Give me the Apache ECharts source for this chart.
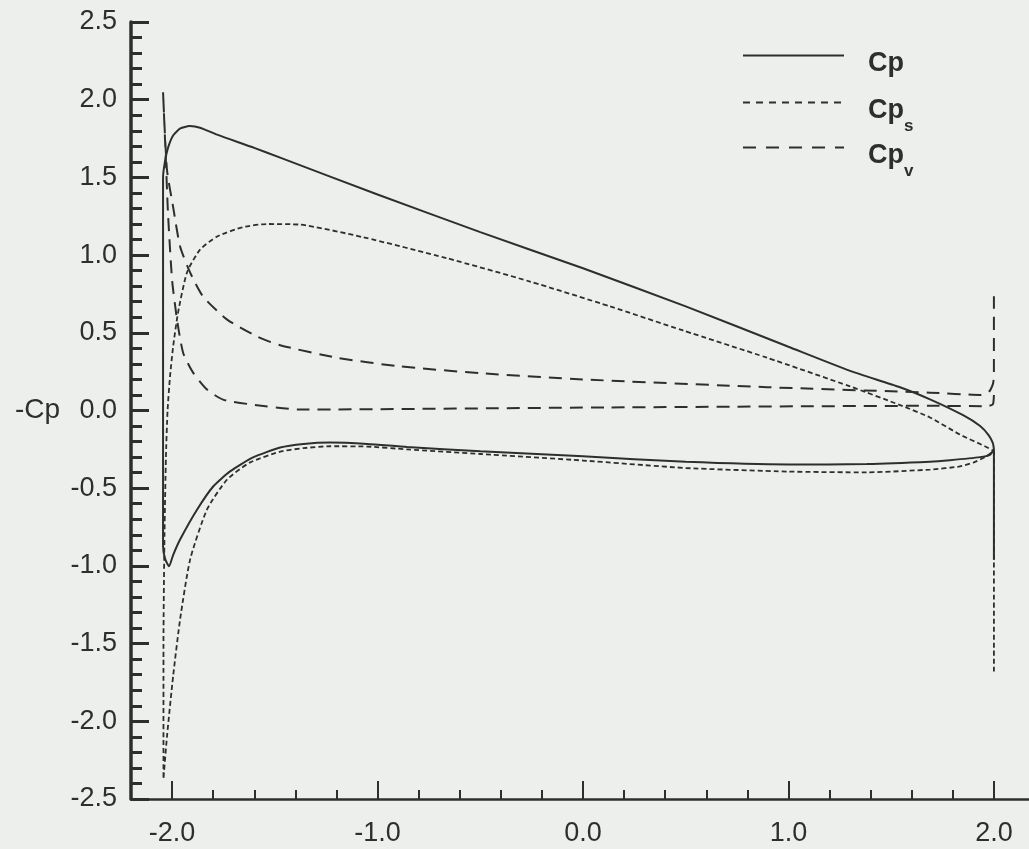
<!DOCTYPE html>
<html>
<head>
<meta charset="utf-8">
<script src="https://cdn.jsdelivr.net/npm/echarts@6/dist/echarts.min.js"></script>
<style>
  html, body { margin: 0; padding: 0; background: #edefec; }
  #chart { width: 1029px; height: 849px; }
</style>
</head>
<body>
<div id="chart"></div>
<script>
// Pressure coefficient around the section, x along the chord, y = -Cp.
// Each curve runs from the trailing-edge spike along the lower side to the
// leading edge, then back along the upper side.

const xMajorTicks = [-2, -1, 0, 1, 2];

// Total pressure coefficient Cp
const cpSpike = [[2.0, -0.96]];
const cpLower = [
  [2.0, -0.25], [1.98, -0.285], [1.932, -0.30], [1.786, -0.32], [1.689, -0.33],
  [1.382, -0.345], [1.0, -0.347], [0.5, -0.33], [0.0, -0.295], [-0.5, -0.262],
  [-0.856, -0.235], [-1.05, -0.215], [-1.231, -0.206], [-1.36, -0.215], [-1.474, -0.238],
  [-1.606, -0.302], [-1.718, -0.392], [-1.80, -0.489], [-1.878, -0.637], [-1.961, -0.83],
  [-1.995, -0.93], [-2.015, -1.003], [-2.035, -0.95], [-2.044, -0.87]
];
const cpUpper = [
  [-2.044, 1.50], [-2.035, 1.60], [-2.020, 1.69], [-1.995, 1.77], [-1.960, 1.815],
  [-1.915, 1.83], [-1.864, 1.82], [-1.781, 1.775], [-1.60, 1.69], [-1.474, 1.627],
  [-1.0, 1.39], [-0.5, 1.148], [0.0, 0.915], [0.5, 0.67], [1.0, 0.41],
  [1.3, 0.255], [1.543, 0.15], [1.689, 0.072], [1.85, -0.03], [1.933, -0.10],
  [1.975, -0.16], [1.995, -0.21], [2.0, -0.25]
];

// Source part Cp_s
const cpsSpike = [[2.0, -1.68]];
const cpsLower = [
  [2.0, -0.26], [1.956, -0.30], [1.90, -0.335], [1.835, -0.36], [1.689, -0.38],
  [1.382, -0.398], [1.0, -0.393], [0.5, -0.37], [0.0, -0.322], [-0.5, -0.28],
  [-0.856, -0.25], [-1.05, -0.232], [-1.231, -0.23], [-1.36, -0.242], [-1.474, -0.265],
  [-1.62, -0.334], [-1.732, -0.444], [-1.83, -0.637], [-1.912, -0.958], [-1.961, -1.344],
  [-1.995, -1.71], [-2.025, -2.10], [-2.042, -2.37]
];
const cpsUpper = [
  [-2.042, -1.5], [-2.037, -0.8], [-2.030, -0.3], [-2.022, 0.0], [-2.010, 0.22],
  [-1.995, 0.41], [-1.971, 0.63], [-1.927, 0.89], [-1.864, 1.035], [-1.781, 1.12],
  [-1.655, 1.18], [-1.538, 1.20], [-1.377, 1.196], [-1.07, 1.115], [-0.662, 0.98],
  [-0.258, 0.83], [0.131, 0.67], [0.487, 0.515], [0.895, 0.34], [1.30, 0.155],
  [1.543, 0.035], [1.689, -0.045], [1.835, -0.155], [1.956, -0.23], [2.0, -0.26]
];

// Vortex part Cp_v
const cpvLower = [
  [2.0, 0.10], [1.995, 0.04], [1.97, 0.028], [1.689, 0.03], [0.131, 0.02],
  [-1.377, 0.006], [-1.62, 0.04], [-1.752, 0.07], [-1.83, 0.135], [-1.898, 0.244],
  [-1.946, 0.37], [-1.976, 0.585], [-2.0, 0.84], [-2.02, 1.27], [-2.03, 1.6],
  [-2.044, 2.05]
];
const cpvUpper = [
  [-2.025, 1.55], [-1.995, 1.31], [-1.961, 1.055], [-1.912, 0.887], [-1.849, 0.733],
  [-1.732, 0.585], [-1.586, 0.476], [-1.474, 0.42], [-1.2, 0.34], [-0.9, 0.285],
  [-0.5, 0.24], [0.0, 0.2], [0.895, 0.15], [1.689, 0.115],
  [1.932, 0.10], [1.975, 0.12], [1.995, 0.17], [2.0, 0.22], [2.0, 0.735]
];

const ink = '#2c302c';
const textInk = '#2e2e2e';
const font = '"Liberation Sans", Arial, Helvetica, sans-serif';

const cpPath = cpSpike.concat(cpLower, cpUpper);
const cpsPath = cpsSpike.concat(cpsLower, cpsUpper);
const cpvPath = cpvLower.concat(cpvUpper);

const legendRich = {
  c: { fontSize: 27, fontWeight: 'bold', fontFamily: font, color: textInk, lineHeight: 48 },
  s: { fontSize: 17, fontWeight: 'bold', fontFamily: font, color: textInk, lineHeight: 16, verticalAlign: 'bottom' }
};
function legendAt(name, top, dash) {
  return {
    data: [name],
    orient: 'vertical',
    left: 742,
    top: top,
    padding: 0,
    itemWidth: 101,
    itemHeight: 14,
    selectedMode: false,
    itemStyle: { opacity: 0 },
    lineStyle: { type: dash, width: 2, color: ink },
    formatter: function (n) {
      if (n === 'Cp_s') return '{c|Cp}{s|s}';
      if (n === 'Cp_v') return '{c|Cp}{s|v}';
      return '{c|Cp}{s| }';
    },
    textStyle: { padding: [16, 0, 0, 19], rich: legendRich }
  };
}

const chart = echarts.init(document.getElementById('chart'), null, { renderer: 'canvas' });
chart.setOption({
  backgroundColor: '#edefec',
  animation: false,
  grid: { left: 131, right: -6, top: 22, bottom: 50, outerBoundsMode: 'none' },
  legend: [
    legendAt('Cp', 50, 'solid'),
    legendAt('Cp_s', 97, [7, 6]),
    legendAt('Cp_v', 142, [13, 10])
  ],
  xAxis: [
    {
      type: 'value', min: -2.2, max: 2.2, position: 'bottom',
      axisLine: { show: true, onZero: false, lineStyle: { color: ink, width: 2.5 } },
      axisTick: { show: true, inside: true, length: 18, customValues: xMajorTicks, lineStyle: { color: ink, width: 2 } },
      axisLabel: {
        show: true, customValues: xMajorTicks, margin: 21,
        fontSize: 27, fontFamily: font, color: textInk,
        formatter: function (v) { return Number(v).toFixed(1); }
      },
      splitLine: { show: false }
    },
    {
      type: 'value', min: -2.2, max: 2.2, interval: 0.2, position: 'bottom',
      axisLine: { show: false, onZero: false },
      axisTick: { show: true, inside: true, length: 9, lineStyle: { color: ink, width: 2 } },
      axisLabel: { show: false },
      splitLine: { show: false }
    }
  ],
  yAxis: {
    type: 'value', min: -2.5, max: 2.5, interval: 0.5,
    name: '-Cp', nameLocation: 'middle', nameRotate: 0, nameGap: 71,
    nameTextStyle: { fontSize: 28, fontFamily: font, color: textInk },
    axisLine: { show: true, onZero: false, lineStyle: { color: ink, width: 3.5 } },
    axisTick: { show: true, inside: true, length: 18, lineStyle: { color: ink, width: 3 } },
    minorTick: { show: true, splitNumber: 5, length: 11, lineStyle: { color: ink, width: 3 } },
    axisLabel: {
      show: true, margin: 14, fontSize: 27, fontFamily: font, color: textInk,
      formatter: function (v) { return Number(v).toFixed(1); }
    },
    splitLine: { show: false }
  },
  series: [
    {
      name: 'Cp', type: 'line', data: cpPath, symbol: 'none', xAxisIndex: 0, smooth: 0.2,
      lineStyle: { color: ink, width: 2, type: 'solid' }, itemStyle: { color: ink }
    },
    {
      name: 'Cp_s', type: 'line', data: cpsPath, symbol: 'none', xAxisIndex: 0, smooth: 0.2,
      lineStyle: { color: ink, width: 1.8, type: [5, 3] }, itemStyle: { color: ink }
    },
    {
      name: 'Cp_v', type: 'line', data: cpvPath, symbol: 'none', xAxisIndex: 0, smooth: 0.2,
      lineStyle: { color: ink, width: 2, type: [13, 8] }, itemStyle: { color: ink }
    }
  ]
});
</script>
</body>
</html>
